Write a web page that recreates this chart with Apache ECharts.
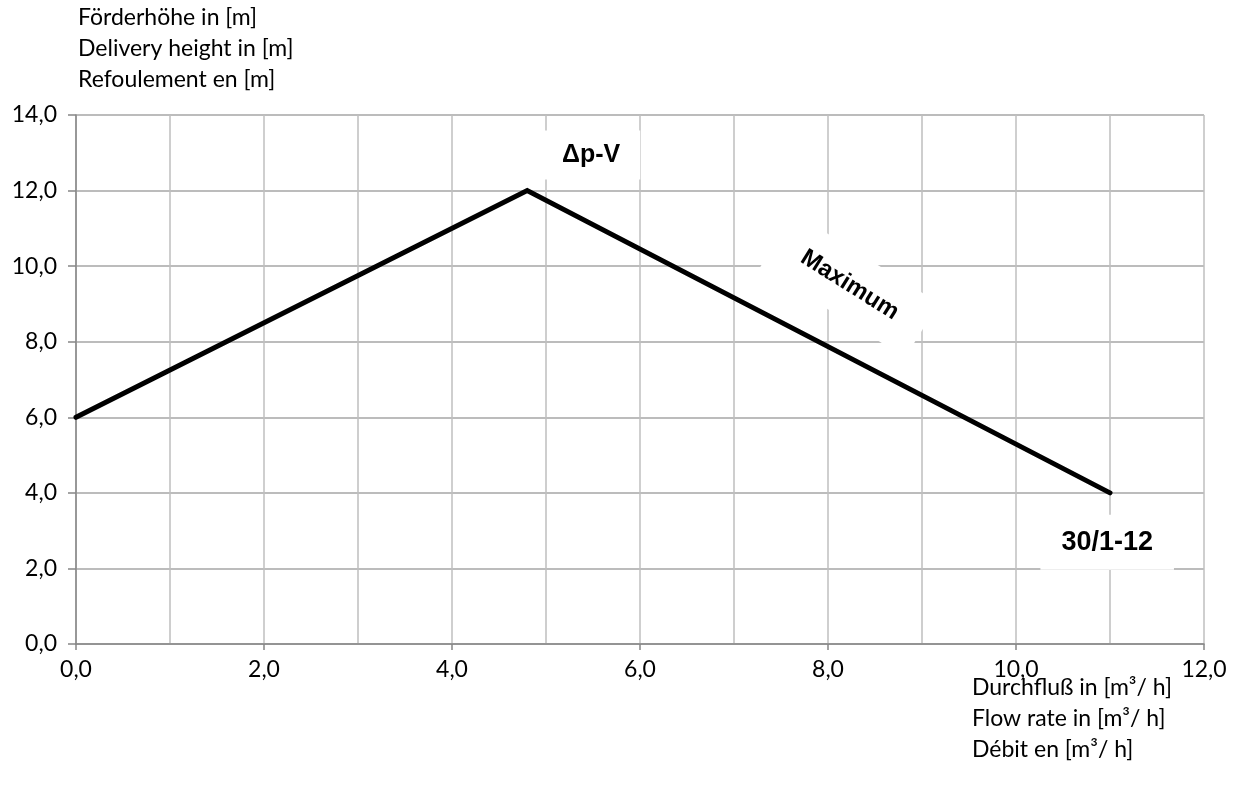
<!DOCTYPE html>
<html><head><meta charset="utf-8">
<script src="https://cdn.jsdelivr.net/npm/echarts@6/dist/echarts.min.js"></script>
<style>html,body{margin:0;padding:0;background:#fff}#c{width:1236px;height:788px}</style>
</head><body><div id="c"></div>
<script>
// Data
const flowX = [0.0, 4.8, 11.0];
const heightY = [6.0, 12.0, 4.0];
const yTitleLines = ['Förderhöhe in [m]', 'Delivery height in [m]', 'Refoulement en [m]'];
const xTitleLines = ['Durchfluß in [m³/ h]', 'Flow rate in [m³/ h]', 'Débit en [m³/ h]'];
const annotations = ['Δp-V', 'Maximum', '30/1-12'];
const annotationX = [5.48, 8.23, 10.97];
const annotationY = [12.94, 9.5, 2.69];

const chart = echarts.init(document.getElementById('c'), null, {renderer: 'canvas'});
const tickFont = {fontFamily: 'Lato', fontSize: 23, color: '#000'};
const fmt = v => v.toFixed(1).replace('.', ',');

const labelStyles = [
  {fontSize: 25, rotate: 0, padding: [12, 20, 12, 20]},
  {fontSize: 24, rotate: -32, padding: [20, 30, 20, 30]},
  {fontSize: 27, rotate: 0, padding: [8, 21, 20, 21]}
];

chart.setOption({
  animation: false,
  grid: {left: 76, right: 32, top: 115, bottom: 144},
  xAxis: {
    type: 'value', min: 0, max: 12, interval: 2,
    axisLine: {show: true, onZero: false, lineStyle: {color: '#868686', width: 1.5}},
    axisTick: {show: true, length: 6, lineStyle: {color: '#868686', width: 1.5}},
    axisLabel: Object.assign({margin: 14, formatter: fmt}, tickFont),
    splitLine: {show: true, lineStyle: {color: '#bfbfbf', width: 1.5}},
    minorTick: {show: false, splitNumber: 2},
    minorSplitLine: {show: true, lineStyle: {color: '#bfbfbf', width: 1.5}}
  },
  yAxis: {
    type: 'value', min: 0, max: 14, interval: 2,
    axisLine: {show: true, lineStyle: {color: '#868686', width: 1.5}},
    axisTick: {show: true, length: 8, lineStyle: {color: '#868686', width: 1.5}},
    axisLabel: Object.assign({margin: 19, formatter: fmt}, tickFont),
    splitLine: {show: true, lineStyle: {color: '#a6a6a6', width: 1.5}}
  },
  graphic: [
    {type: 'text', left: 78, top: 2, style: {text: yTitleLines.join('\n'), fontFamily: 'Lato', fontSize: 23, lineHeight: 31, fill: '#000'}},
    {type: 'text', right: 64, top: 672, style: {text: xTitleLines.join('\n'), fontFamily: 'Lato', fontSize: 23, lineHeight: 31, fill: '#000', align: 'left'}}
  ],
  series: [
    {
      type: 'line',
      data: flowX.map((x, i) => [x, heightY[i]]),
      symbol: 'none',
      lineStyle: {color: '#000', width: 5, cap: 'round', join: 'miter'},
      z: 3
    },
    {
      type: 'scatter',
      data: annotations.map((t, i) => ({value: [annotationX[i], annotationY[i]], name: t,
        label: {fontSize: labelStyles[i].fontSize, rotate: labelStyles[i].rotate, padding: labelStyles[i].padding, color: '#000'}})),
      symbolSize: 0,
      itemStyle: {opacity: 1},
      z: 2,
      emphasis: {disabled: true},
      label: {
        show: true, position: 'inside', opacity: 1,
        formatter: p => p.name,
        fontFamily: 'Liberation Sans', fontWeight: 'bold', color: '#000',
        textBorderWidth: 0,
        backgroundColor: '#fff'
      }
    }
  ]
});
</script></body></html>
